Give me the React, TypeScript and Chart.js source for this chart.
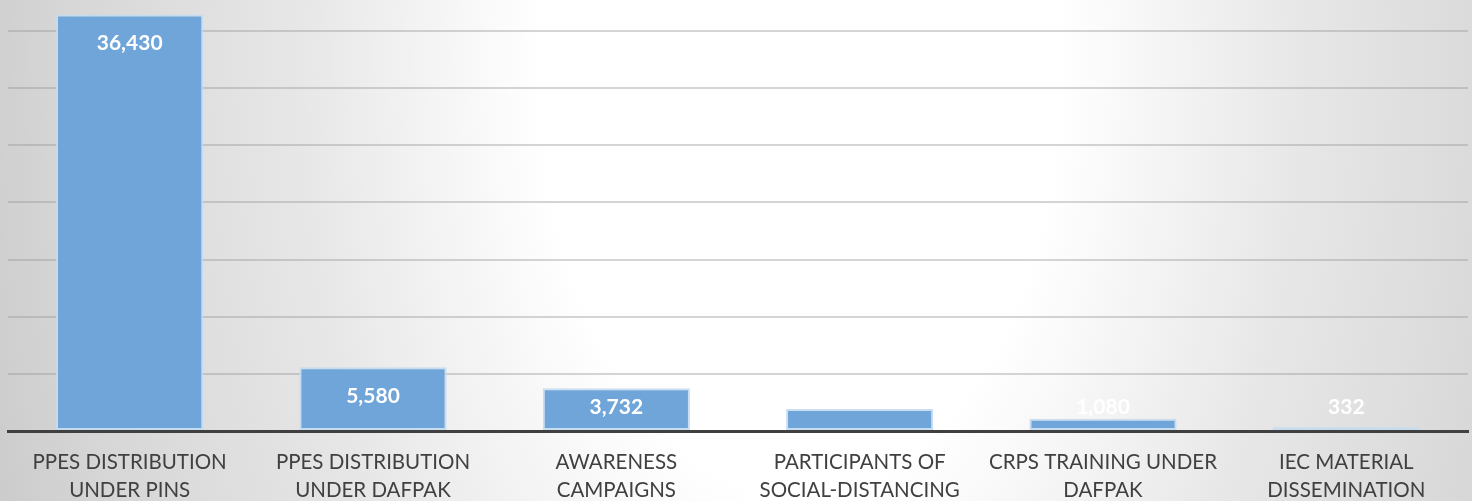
import React, { useEffect, useRef } from "react";
import { Chart, registerables } from "chart.js";

Chart.register(...registerables);

const categories: string[][] = [
  ["PPES DISTRIBUTION", "UNDER PINS"],
  ["PPES DISTRIBUTION", "UNDER DAFPAK"],
  ["AWARENESS", "CAMPAIGNS"],
  ["PARTICIPANTS OF", "SOCIAL-DISTANCING"],
  ["CRPS TRAINING UNDER", "DAFPAK"],
  ["IEC MATERIAL", "DISSEMINATION"],
];
const values: number[] = [36430, 5580, 3732, 1925, 1080, 332];
const yTickValues: number[] = [0, 5000, 10000, 15000, 20000, 25000, 30000, 35000];
const yMax = 37000;

const W = 1472;
const H = 501;

const bgPlugin = {
  id: "bgGradient",
  beforeDraw(chart: any) {
    const ctx = chart.ctx;
    ctx.save();
    ctx.translate(800, 60);
    ctx.scale(1, 1 / 0.6);
    const g = ctx.createRadialGradient(0, 0, 0, 0, 0, 880);
    g.addColorStop(0, "#ffffff");
    g.addColorStop(0.295, "#ffffff");
    g.addColorStop(0.568, "#e7e7e7");
    g.addColorStop(0.841, "#d6d6d6");
    g.addColorStop(1, "#c8c8c8");
    ctx.fillStyle = g;
    ctx.fillRect(-1200, -1200, 3000, 3000);
    ctx.restore();
  },
};

const labelPlugin = {
  id: "valueLabels",
  afterDatasetsDraw(chart: any) {
    const ctx = chart.ctx;
    const meta = chart.getDatasetMeta(0);
    const fmt = new Intl.NumberFormat("en-US");
    ctx.save();
    ctx.font = "bold 21px Lato, 'Open Sans', sans-serif";
    ctx.fillStyle = "#ffffff";
    ctx.textAlign = "center";
    ctx.textBaseline = "middle";
    const half = 8;
    meta.data.forEach((bar: any, i: number) => {
      const top = bar.y;
      const base = bar.base;
      const cy = Math.min(top + 28, base - 24);
      const text = fmt.format(values[i]);
      ctx.save();
      if (cy - half < top && cy + half > top) {
        ctx.beginPath();
        ctx.rect(bar.x - bar.width, 0, bar.width * 2, top);
        ctx.clip();
      }
      ctx.fillText(text, bar.x, cy + 1);
      ctx.restore();
    });
    ctx.restore();
  },
};

export default function App() {
  const ref = useRef<HTMLCanvasElement | null>(null);

  useEffect(() => {
    document.body.style.margin = "0";
    const canvas = ref.current;
    if (!canvas) return;
    const chart = new Chart(canvas, {
      type: "bar",
      data: {
        labels: categories,
        datasets: [
          {
            data: values,
            backgroundColor: "#6fa5d8",
            borderColor: "rgba(196,218,240,0.9)",
            borderWidth: 2,
            borderSkipped: false,
            barPercentage: 0.605,
            categoryPercentage: 1,
          },
        ],
      },
      options: {
        responsive: false,
        animation: false,
        devicePixelRatio: 1,
        layout: { padding: { left: 8, right: 4, top: 8, bottom: 0 } },
        plugins: {
          legend: { display: false },
          tooltip: { enabled: false },
          title: { display: false },
        },
        scales: {
          x: {
            afterFit: (s: any) => {
              s.height = 70;
            },
            grid: { display: false, drawTicks: false },
            border: { display: true, color: "#404040", width: 3, z: 1 },
            ticks: {
              color: "#404040",
              padding: 18,
              maxRotation: 0,
              autoSkip: false,
              font: { family: "Lato, 'Open Sans', sans-serif", size: 20.5, lineHeight: 1.33 },
            },
          },
          y: {
            min: 0,
            max: yMax,
            afterBuildTicks: (s: any) => {
              s.ticks = yTickValues.map((v) => ({ value: v }));
            },
            border: { display: false },
            grid: {
              drawTicks: false,
              lineWidth: 2,
              color: "rgba(150,150,150,0.4)",
            },
            ticks: { display: false },
          },
        },
      },
      plugins: [bgPlugin, labelPlugin],
    });
    return () => chart.destroy();
  }, []);

  return (
    <div style={{ width: W, height: H }}>
      <canvas ref={ref} width={W} height={H} style={{ display: "block", width: W, height: H }} />
    </div>
  );
}
